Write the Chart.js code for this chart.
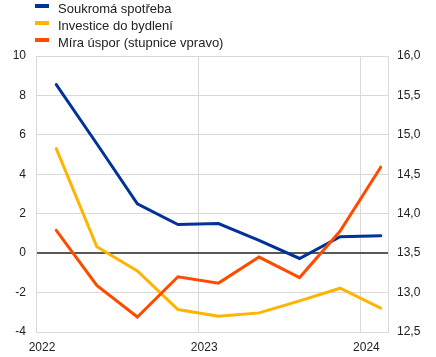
<!DOCTYPE html>
<html>
<head>
<meta charset="utf-8">
<script src="https://cdn.jsdelivr.net/npm/chart.js@4/dist/chart.umd.min.js"></script>
<style>
  html, body { margin: 0; padding: 0; background: #fff; }
  #wrap { position: relative; width: 436px; height: 357px; }
  #legend { position: absolute; left: 35px; top: 0px; font-family: "Liberation Sans", Arial, sans-serif; font-size: 13px; color: #222; }
  .item { position: relative; height: 17px; line-height: 17px; padding-left: 23px; white-space: nowrap; }
  .sw { position: absolute; left: 0; top: 4px; width: 14px; height: 4px; }
</style>
</head>
<body>
<div id="wrap">
  <canvas id="c" width="436" height="357"></canvas>
  <div id="legend"></div>
</div>
<script>
// Data
const quarters = ['2022-Q1','2022-Q2','2022-Q3','2022-Q4','2023-Q1','2023-Q2','2023-Q3','2023-Q4','2024-Q1'];
const seriesNames = ['Soukromá spotřeba', 'Investice do bydlení', 'Míra úspor (stupnice vpravo)'];
const privateConsumption = [8.55, 5.55, 2.5, 1.45, 1.5, 0.65, -0.27, 0.83, 0.88];
const housingInvestment = [5.3, 0.32, -0.9, -2.86, -3.2, -3.03, -2.42, -1.78, -2.79];
const savingsRate = [13.79, 13.09, 12.69, 13.2, 13.12, 13.45, 13.19, 13.78, 14.59];
const xTickYears = [2022, 2023, 2024];
const leftTicks = [-4, -2, 0, 2, 4, 6, 8, 10];
const rightTicks = [12.5, 13.0, 13.5, 14.0, 14.5, 15.0, 15.5, 16.0];

const colors = ['#003299', '#FFB400', '#FF4B00'];

function qToYear(q) {
  const [y, qq] = q.split('-Q');
  return Number(y) + (Number(qq) - 0.5) / 4;
}
function pts(values) {
  return quarters.map((q, i) => ({ x: qToYear(q), y: values[i] }));
}

// HTML legend
const legend = document.getElementById('legend');
seriesNames.forEach((n, i) => {
  const d = document.createElement('div');
  d.className = 'item';
  d.innerHTML = '<span class="sw" style="background:' + colors[i] + '"></span>' + n;
  legend.appendChild(d);
});

const font = { family: '"Liberation Sans", Arial, sans-serif', size: 12 };
const gridGrey = '#d9d9d9';

new Chart(document.getElementById('c'), {
  type: 'line',
  data: {
    datasets: [
      { label: seriesNames[0], data: pts(privateConsumption), borderColor: colors[0], yAxisID: 'y', order: 2 },
      { label: seriesNames[1], data: pts(housingInvestment), borderColor: colors[1], yAxisID: 'y', order: 1 },
      { label: seriesNames[2], data: pts(savingsRate), borderColor: colors[2], yAxisID: 'y1', order: 0 }
    ]
  },
  options: {
    responsive: false,
    animation: false,
    devicePixelRatio: 1,
    layout: { padding: { top: 56, left: 0, right: 0, bottom: 0 } },
    elements: {
      line: { borderWidth: 3, tension: 0, fill: false, borderCapStyle: 'round', borderJoinStyle: 'miter' },
      point: { radius: 0, hoverRadius: 0 }
    },
    plugins: { legend: { display: false }, tooltip: { enabled: false } },
    scales: {
      x: {
        type: 'linear',
        min: 2022,
        max: 2024.17,
        afterBuildTicks: s => { s.ticks = xTickYears.map(v => ({ value: v })); },
        afterFit: s => { s.height = 25; },
        grid: { color: gridGrey, lineWidth: 1, drawTicks: false },
        border: { color: gridGrey },
        ticks: { font, color: '#222', padding: 8, labelOffset: 6, maxRotation: 0, callback: v => String(v) }
      },
      y: {
        position: 'left',
        min: -4, max: 10,
        afterBuildTicks: s => { s.ticks = leftTicks.map(v => ({ value: v })); },
        afterFit: s => { s.width = 36; },
        grid: {
          drawTicks: false,
          color: c => (c.tick && c.tick.value === 0) ? '#595959' : gridGrey,
          lineWidth: c => (c.tick && c.tick.value === 0) ? 2 : 1
        },
        border: { color: gridGrey },
        ticks: { font, color: '#222', padding: 10, callback: v => String(v) }
      },
      y1: {
        position: 'right',
        min: 12.5, max: 16,
        afterBuildTicks: s => { s.ticks = rightTicks.map(v => ({ value: v })); },
        afterFit: s => { s.width = 48; },
        grid: { drawOnChartArea: false, drawTicks: false },
        border: { color: gridGrey },
        ticks: { font, color: '#222', padding: 9, callback: v => Number(v).toFixed(1).replace('.', ',') }
      }
    }
  }
});
</script>
</body>
</html>
